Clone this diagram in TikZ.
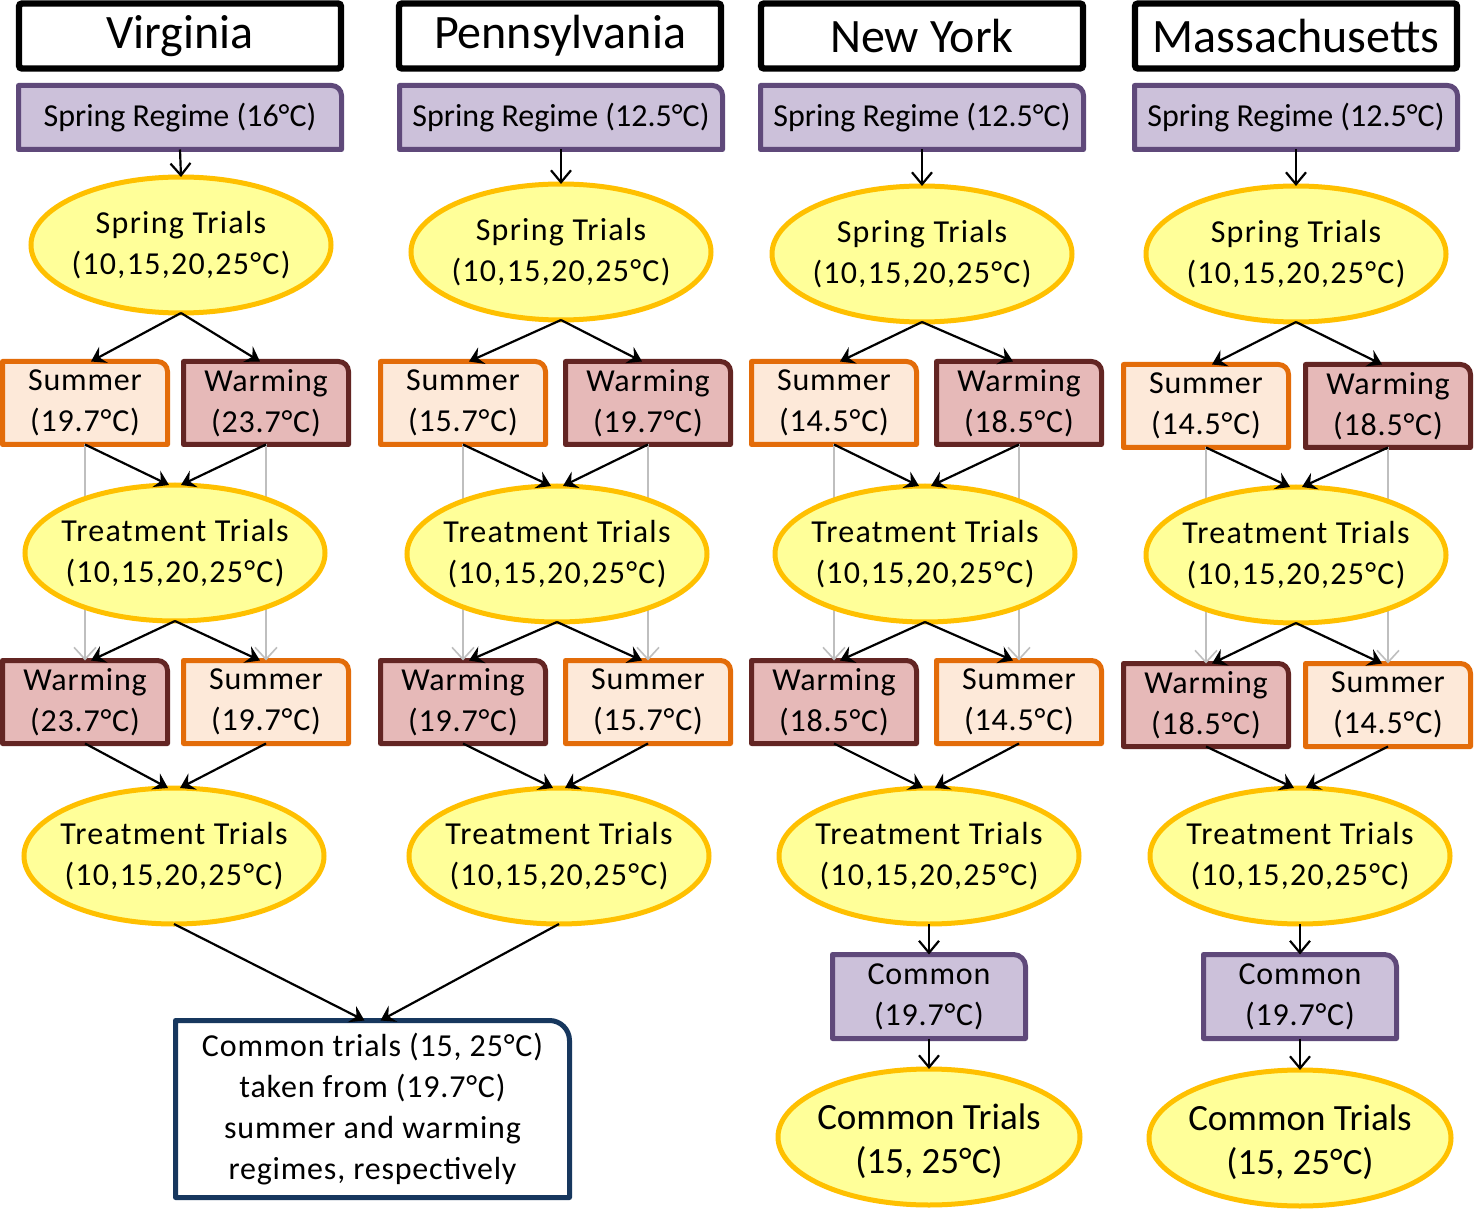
\documentclass[tikz,border=0pt]{standalone}
\usepackage{fontspec}
\setmainfont{Carlito}
\newfontfamily\spfont{Carlito}[LetterSpace=4]
\newfontfamily\smfont{Carlito}[LetterSpace=2.5]
\usetikzlibrary{arrows.meta,backgrounds,calc,shapes.geometric}
\definecolor{purpD}{HTML}{5F497A}
\definecolor{purpL}{HTML}{CCC1DA}
\definecolor{orD}{HTML}{E36C09}
\definecolor{orL}{HTML}{FDE9D9}
\definecolor{maD}{HTML}{632523}
\definecolor{maL}{HTML}{E6B9B8}
\definecolor{elD}{HTML}{FFC000}
\definecolor{elL}{HTML}{FFFF99}
\definecolor{blD}{HTML}{17375E}
\definecolor{grL}{HTML}{BFBFBF}
% outline of a box with one rounded (top right) corner
\newcommand\cornpath[4]{%
  \filldraw[draw=#2, fill=#3, line width=2.5pt, line join=round]
    (#1.south west) -- (#1.north west) -- ($(#1.north east)+(-#4,0)$)
    arc[start angle=90, end angle=0, radius=#4] -- (#1.south east) -- cycle;}
\begin{document}
\begin{tikzpicture}[x=0.5pt,y=0.5pt,
  txt/.style={font=\fontsize{16}{20.5}\selectfont, align=center, inner sep=0pt, outer sep=0pt},
  ttl/.style={draw=black, fill=white, line width=3.2pt, rounded corners=1.5pt,
    minimum width=161pt, minimum height=32.5pt, inner sep=0pt, outer sep=0pt,
    font=\fontsize{24}{28}\selectfont},
  regbox/.style={txt, minimum width=161.5pt, minimum height=32pt},
  tbox/.style={txt, font=\smfont\fontsize{16}{20.5}\selectfont, minimum width=82.5pt, minimum height=41.5pt},
  combox/.style={txt, font=\smfont\fontsize{16}{20.5}\selectfont, minimum width=96.5pt, minimum height=42pt},
  bigbox/.style={txt, font=\smfont\fontsize{16}{20.5}\selectfont, minimum width=197pt, minimum height=88.5pt},
  ell/.style={ellipse, draw=elD, fill=elL, line width=2.5pt, minimum width=150pt,
    minimum height=68pt, inner sep=0pt, outer sep=0pt,
    label={[txt, font=\spfont\fontsize{16}{20.5}\selectfont]center:#1}},
  ellb/.style={ellipse, draw=elD, fill=elL, line width=2.5pt, minimum width=151pt,
    minimum height=68pt, inner sep=0pt, outer sep=0pt,
    label={[txt, font=\fontsize{18.5}{22}\selectfont, yshift=-2pt]center:#1}},
  arr/.style={-{Stealth[length=7pt, width=9pt, inset=2.5pt]}, line width=1.1pt, black},
  varr/.style={-{Straight Barb[length=6pt, width=10pt]}, line width=1.1pt, black},
  garr/.style={-{Straight Barb[length=6pt, width=11pt]}, line width=0.8pt, grL},
]
\useasboundingbox (0,0) rectangle (1474,-1209);

% ---------- titles
\node[ttl] (va-ti) at (180,-36) {Virginia};
\node[ttl] (pa-ti) at (560,-36) {Pennsylvania};
\node[ttl] (ny-ti) at (922,-36) {New York};
\node[ttl] (ma-ti) at (1296,-36) {Massachusetts};

% ---------- spring regime
\node[regbox] (va-sr) at (180,-117.5) {Spring Regime (16°C)};
\node[regbox] (pa-sr) at (561,-117.5) {Spring Regime (12.5°C)};
\node[regbox] (ny-sr) at (922,-117.5) {Spring Regime (12.5°C)};
\node[regbox] (ma-sr) at (1296,-117.5) {Spring Regime (12.5°C)};

% ---------- spring trials
\node[ell={Spring Trials\\(10,15,20,25°C)}] (va-st) at (181,-245) {};
\node[ell={Spring Trials\\(10,15,20,25°C)}] (pa-st) at (561,-252) {};
\node[ell={Spring Trials\\(10,15,20,25°C)}] (ny-st) at (922,-254) {};
\node[ell={Spring Trials\\(10,15,20,25°C)}] (ma-st) at (1296,-254) {};

% ---------- first regime row
\node[tbox] (va-s1) at (85,-403) {Summer\\(19.7°C)};
\node[tbox] (va-w1) at (266,-403) {Warming\\(23.7°C)};
\node[tbox] (pa-s1) at (463,-403) {Summer\\(15.7°C)};
\node[tbox] (pa-w1) at (648,-403) {Warming\\(19.7°C)};
\node[tbox] (ny-s1) at (834,-403) {Summer\\(14.5°C)};
\node[tbox] (ny-w1) at (1019,-403) {Warming\\(18.5°C)};
\node[tbox] (ma-s1) at (1206,-406) {Summer\\(14.5°C)};
\node[tbox] (ma-w1) at (1388,-406) {Warming\\(18.5°C)};

% ---------- first treatment trials
\node[ell={Treatment Trials\\(10,15,20,25°C)}] (va-t1) at (175,-553) {};
\node[ell={Treatment Trials\\(10,15,20,25°C)}] (pa-t1) at (557,-554) {};
\node[ell={Treatment Trials\\(10,15,20,25°C)}] (ny-t1) at (925,-554) {};
\node[ell={Treatment Trials\\(10,15,20,25°C)}] (ma-t1) at (1296,-555) {};

% ---------- second regime row
\node[tbox] (va-w2) at (85,-702) {Warming\\(23.7°C)};
\node[tbox] (va-s2) at (266,-702) {Summer\\(19.7°C)};
\node[tbox] (pa-w2) at (463,-702) {Warming\\(19.7°C)};
\node[tbox] (pa-s2) at (648,-702) {Summer\\(15.7°C)};
\node[tbox] (ny-w2) at (834,-702) {Warming\\(18.5°C)};
\node[tbox] (ny-s2) at (1019,-702) {Summer\\(14.5°C)};
\node[tbox] (ma-w2) at (1206,-705) {Warming\\(18.5°C)};
\node[tbox] (ma-s2) at (1388,-705) {Summer\\(14.5°C)};

% ---------- second treatment trials
\node[ell={Treatment Trials\\(10,15,20,25°C)}] (va-t2) at (174,-856) {};
\node[ell={Treatment Trials\\(10,15,20,25°C)}] (pa-t2) at (559,-856) {};
\node[ell={Treatment Trials\\(10,15,20,25°C)}] (ny-t2) at (929,-856) {};
\node[ell={Treatment Trials\\(10,15,20,25°C)}] (ma-t2) at (1300,-856) {};

% ---------- common
\node[bigbox] (cb) at (372.5,-1109) {Common trials (15, 25°C)\\taken from (19.7°C)\\summer and warming\\regimes, respectively};
\node[combox] (ny-cm) at (929,-996.5) {Common\\(19.7°C)};
\node[combox] (ma-cm) at (1300,-996.5) {Common\\(19.7°C)};
\node[ellb={Common Trials\\(15, 25°C)}] (ny-ct) at (929,-1137) {};
\node[ellb={Common Trials\\(15, 25°C)}] (ma-ct) at (1300,-1138) {};

% ---------- box outlines and grey links behind everything
\begin{scope}[on background layer]
  \fill[white] (0,0) rectangle (1474,-1209);
  \foreach \n in {va-sr,pa-sr,ny-sr,ma-sr} {\cornpath{\n}{purpD}{purpL}{10}}
  \foreach \n in {va-s1,pa-s1,ny-s1,ma-s1,va-s2,pa-s2,ny-s2,ma-s2} {\cornpath{\n}{orD}{orL}{10}}
  \foreach \n in {va-w1,pa-w1,ny-w1,ma-w1,va-w2,pa-w2,ny-w2,ma-w2} {\cornpath{\n}{maD}{maL}{10}}
  \foreach \n in {ny-cm,ma-cm} {\cornpath{\n}{purpD}{purpL}{12}}
  \cornpath{cb}{blD}{white}{20}
  \foreach \c in {va,pa,ny,ma} {
    \draw[garr] (\c-s1.south) -- (\c-w2.north);
    \draw[garr] (\c-w1.south) -- (\c-s2.north);
  }
\end{scope}

% ---------- black connectors
\foreach \c in {va,pa,ny,ma} {
  \draw[varr] (\c-sr.south) -- (\c-st.north);
  \draw[arr] (\c-st.south) -- ([xshift=3pt]\c-s1.north);
  \draw[arr] (\c-st.south) -- ([xshift=-3pt]\c-w1.north);
  \draw[arr] (\c-s1.south) -- ([xshift=-3pt]\c-t1.north);
  \draw[arr] (\c-w1.south) -- ([xshift=3pt]\c-t1.north);
  \draw[arr] (\c-t1.south) -- ([xshift=3pt]\c-w2.north);
  \draw[arr] (\c-t1.south) -- ([xshift=-3pt]\c-s2.north);
  \draw[arr] (\c-w2.south) -- ([xshift=-3pt]\c-t2.north);
  \draw[arr] (\c-s2.south) -- ([xshift=3pt]\c-t2.north);
}
\draw[arr] (va-t2.south) -- ([xshift=-4pt]cb.north);
\draw[arr] (pa-t2.south) -- ([xshift=4pt]cb.north);
\foreach \c in {ny,ma} {
  \draw[varr] (\c-t2.south) -- (\c-cm.north);
  \draw[varr] (\c-cm.south) -- (\c-ct.north);
}
\end{tikzpicture}
\end{document}
